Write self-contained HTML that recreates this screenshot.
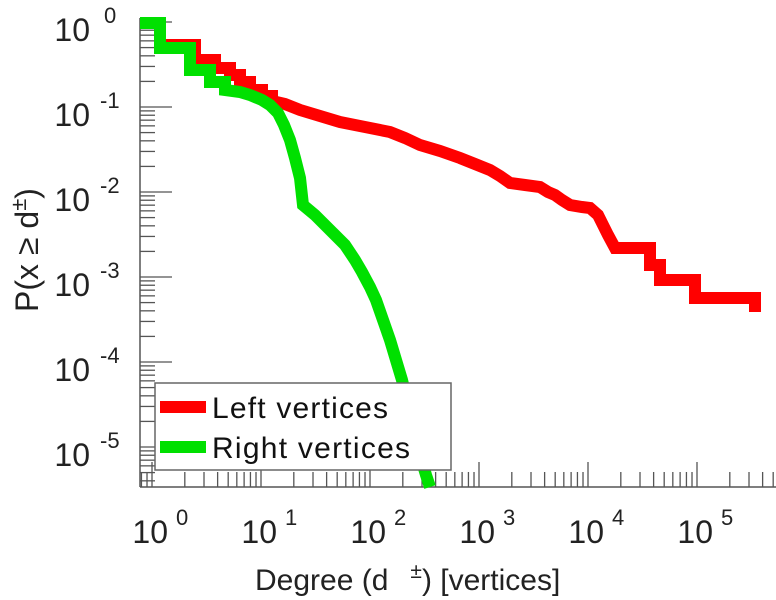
<!DOCTYPE html>
<html><head><meta charset="utf-8"><style>body{margin:0;background:#fff}svg{display:block}</style></head>
<body>
<svg id="s" width="776" height="600" xmlns="http://www.w3.org/2000/svg" font-family="Liberation Sans, sans-serif">
<rect width="776" height="600" fill="#fff"/>
<g id="ticks" stroke="#555" stroke-width="1.3"></g>
<line x1="140" y1="18" x2="140" y2="487" stroke="#555" stroke-width="1.5"/>
<line x1="140" y1="487" x2="776" y2="487" stroke="#555" stroke-width="1.5"/>
<polyline fill="none" stroke="#ff0000" stroke-width="12" stroke-linejoin="miter" points="155,45 195,45 195,60 215,60 215,68 230,68 230,75 240,75 240,82 250,82 250,90 262,90 262,96 272,96 272,101 285,104 300,110 320,116 340,122 365,127 390,132 405,138 420,145 440,151 460,158 475,164 490,170 500,176 510,183 525,185 540,187 548,192 555,195 562,200 570,205 582,207 590,208 598,215 603,225 608,235 615,248 650,248 650,265 660,265 660,280 695,280 695,298 755,298 755,312"/>
<polyline fill="none" stroke="#00e000" stroke-width="12" stroke-linejoin="miter" points="140,23 160,23 160,48 190,48 190,70 210,70 210,82 225,82 225,90 240,92 250,95 262,100 270,105 278,113 284,125 290,140 295,158 300,178 303,205 315,215 330,230 345,245 355,260 362,272 370,287 376,300 383,320 390,340 396,360 402,380 408,405 414,430 420,455 426,475 430,487"/>
<rect x="155" y="383" width="296" height="87" fill="#fff" stroke="#666" stroke-width="1.5"/>
<line x1="160" y1="407" x2="206" y2="407" stroke="#ff0000" stroke-width="12"/>
<line x1="160" y1="447" x2="206" y2="447" stroke="#00e000" stroke-width="12"/>
<text x="212" y="418" font-size="30" fill="#111" textLength="176">Left vertices</text>
<text x="212" y="458" font-size="30" fill="#111" textLength="198">Right vertices</text>
<g id="lab" fill="#222"></g>
<text x="255" y="590" font-size="30" fill="#222">Degree (d<tspan dx="22" dy="-12" font-size="21">±</tspan><tspan dy="12">) [vertices]</tspan></text>
<text transform="translate(38,250) rotate(-90)" font-size="32" fill="#222" text-anchor="middle">P(x ≥ d<tspan dy="-12" font-size="22">±</tspan><tspan dy="12">)</tspan></text>
</svg>
<script>
var NS="http://www.w3.org/2000/svg",t=document.getElementById('ticks'),lab=document.getElementById('lab');
function L(x1,y1,x2,y2){var l=document.createElementNS(NS,'line');l.setAttribute('x1',x1);l.setAttribute('y1',y1);l.setAttribute('x2',x2);l.setAttribute('y2',y2);t.appendChild(l);}
function T(x,y,s,sz,a){var e=document.createElementNS(NS,'text');e.setAttribute('x',x);e.setAttribute('y',y);e.setAttribute('font-size',sz);if(a)e.setAttribute('text-anchor',a);e.textContent=s;lab.appendChild(e);}
var x0=152,dx=109,y0=22,dy=85;
for(var d=-1;d<=6;d++){for(var k=1;k<=9;k++){var x=x0+dx*(d+Math.log10(k));if(x<140||x>776)continue;L(x,487,x,487-(k==1?25:15));}}
for(var d=0;d>=-6;d--){for(var k=1;k<=9;k++){var y=y0-dy*(d+Math.log10(k));if(y<18||y>487)continue;L(140,y,140+(k==1?32:15),y);}}
for(var d=0;d<=5;d++){var x=x0+dx*d;T(x+16,543,'10',32,'end');T(x+24,525,String(d),22);}
for(var d=0;d<=5;d++){var y=y0+dy*d;T(90,y+19,'10',32,'end');T(d==0?104:100,y+1,d==0?'0':'-'+d,22);}
</script>
</body></html>
